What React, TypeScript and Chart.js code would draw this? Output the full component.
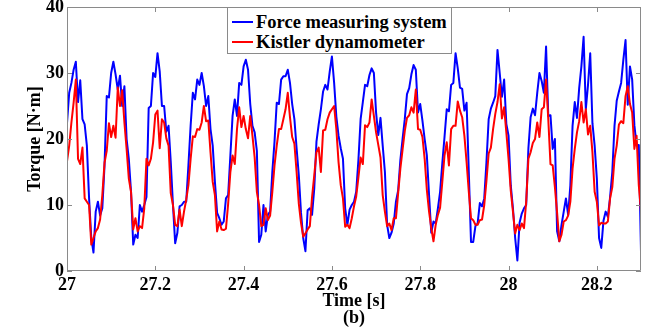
import React, { useEffect, useRef } from "react";
import { Chart, registerables } from "chart.js";

Chart.register(...registerables);

// Sampling of the time axis (s)
const timeStart = 27;
const timeStep = 0.005;

// Torque [N·m] – Force measuring system (blue)
const forceSystem = [
  22.4, 27, 28.5, 30.5, 31.7, 25.6, 28.9, 23, 22.2, 19,
  11, 5, 2.8, 9, 10.5, 8.4, 9.5, 16, 26.5, 26.3,
  30, 31.7, 29.8, 27.5, 29.6, 25, 28, 20, 17, 12,
  4, 5.5, 5, 10, 9, 10, 11.2, 24.7, 25, 30,
  29.4, 33, 30.2, 25, 25, 21.1, 22, 16.5, 10, 4.2,
  5.8, 9.8, 10, 10.5, 10.5, 16, 22, 27, 26, 29,
  28.2, 30, 28, 25, 26.5, 21.5, 19, 13.5, 8.8, 8,
  7, 7.5, 11, 11.5, 17.5, 23.5, 26, 23.5, 28.5, 28.2,
  31, 32, 30.5, 25.3, 22, 21, 18.2, 4.4, 5.5, 10,
  6, 8.5, 9, 15, 19.6, 25.5, 25.3, 29, 29.5, 29.5,
  30.5, 28.5, 25.3, 23, 18.6, 14.5, 8.8, 5, 3, 9.2,
  9.5, 8.5, 12.5, 19.6, 22.2, 24.5, 27.2, 28.2, 27.5, 30.2,
  32.5, 28.5, 23.4, 20.5, 18.6, 17, 9.5, 7, 9.3, 10,
  10.5, 12, 16.8, 23, 25.6, 28.2, 28, 29.7, 30.7, 30,
  24, 20.6, 23.2, 19, 15, 7, 5, 5.8, 7.2, 10.5,
  12.2, 16.8, 20, 23, 26.8, 27.7, 29.8, 31.2, 30.5, 24,
  25.3, 22.8, 20, 17.5, 11.5, 5.8, 7.5, 7.2, 9.5, 12,
  16.3, 20.3, 24.5, 24.2, 28.2, 28.5, 33, 30.7, 27.8, 27.6,
  24.3, 25.5, 15, 4.4, 4.4, 6.8, 7.2, 10.3, 9.8, 11,
  16.5, 23, 24.6, 25.5, 26.5, 33.5, 30, 26.4, 29, 22.3,
  20.5, 13, 9.5, 5, 1.6, 7.3, 8.7, 9.5, 10, 18.6,
  23.3, 24.6, 23.6, 27, 30, 28.8, 27, 34, 23.5, 23.6,
  18.5, 20, 6, 4.5, 7, 9, 11, 8.5, 13, 22,
  25.6, 23.2, 27.7, 31, 35.5, 24.5, 28.2, 33, 22.4, 19,
  14, 5, 3.5, 7.6, 9, 8.2, 11.2, 15, 22, 25.8,
  27.2, 28.5, 32, 35, 25.2, 31, 29, 22.1, 19, 19.1,
  3,
];

// Torque [N·m] – Kistler dynamometer (red)
const kistler = [
  16.6, 19, 22.5, 25.5, 29, 17, 16.2, 18.7, 11, 10.5,
  10, 4, 5, 6, 6.5, 7.8, 11.5, 16.4, 18.2, 22.4,
  20.3, 22, 20.2, 27.8, 25, 27.4, 22.5, 18.5, 14, 12,
  6.3, 8, 6, 6.8, 6.5, 9.5, 17, 16, 17, 19.5,
  23.7, 24.3, 18.6, 23, 22.5, 20.1, 19, 11.8, 10, 7,
  6.8, 9.3, 6.8, 9, 10.8, 13, 17, 20.4, 20.3, 21.5,
  21.4, 22.5, 25, 22.7, 22.8, 18, 13.5, 11.5, 6, 7.5,
  6.3, 6.2, 6.4, 10.2, 15, 17.5, 16.2, 21.5, 24.8, 21.8,
  23.5, 21.5, 20.1, 23.5, 20.5, 17.2, 12, 10, 6.8, 7,
  9.5, 7.7, 8.4, 12, 16, 19, 21.5, 21.5, 23, 24.5,
  27, 23.3, 20.3, 19.3, 15, 10.2, 7.3, 5.2, 5.7, 6.3,
  6.8, 11.2, 14.5, 18, 18.7, 15, 21.3, 21.4, 23, 24,
  24.5, 25, 21.5, 16.5, 13, 11, 6.7, 7, 6.5, 8,
  9.8, 11.3, 14.2, 17.2, 16.2, 22.1, 21.8, 22.5, 26, 23.5,
  21, 19.1, 17.2, 11.5, 9, 6.8, 7.2, 6.2, 8, 8,
  11.8, 15.5, 18.4, 21.2, 23.2, 23.6, 24.8, 24, 27.5, 21.5,
  21.4, 20.3, 17, 12.3, 9, 6.5, 4.5, 7, 8.5, 9.6,
  13.5, 17.5, 19.5, 16, 21.5, 22, 22, 25.7, 24.3, 23.3,
  20.5, 16.5, 12, 8, 7.7, 7, 7, 7.7, 7.8, 10,
  13.7, 17.8, 18.7, 21.5, 23.8, 25.6, 28.3, 23.1, 24.8, 21,
  17, 12.2, 9, 5.7, 7, 6.2, 7.2, 6.5, 10.5, 17,
  18, 19.4, 20, 22.5, 20.3, 24.5, 24.8, 29, 23, 16.2,
  16, 12.7, 8.8, 4.5, 5.5, 7.5, 7.7, 8.4, 10.5, 15.5,
  18.5, 21, 22.7, 25.6, 22.5, 24.5, 20.7, 22, 18, 12,
  10.5, 6.9, 7.3, 7.2, 7.2, 7.5, 11, 12.7, 17, 19,
  22.2, 22.7, 22.4, 26.5, 28, 25.3, 24, 18.5, 20.5, 13,
  9,
];

const seriesNames = ["Force measuring system", "Kistler dynamometer"];
const seriesColors = ["#0000ff", "#ff0000"];

const xTickValues = [27, 27.2, 27.4, 27.6, 27.8, 28, 28.2];
const yTickValues = [0, 10, 20, 30, 40];
const xMin = 27;
const xMax = 28.3;
const yMin = 0;
const yMax = 40;

const FONT = "'Liberation Serif', 'Times New Roman', serif";

const framePlugin = {
  id: "matlabFrame",
  afterDatasetsDraw(chart: any) {
    const { ctx, chartArea, scales } = chart;
    const { left, right, top, bottom } = chartArea;
    const xs = scales.x;
    const ys = scales.y;
    ctx.save();
    ctx.strokeStyle = "#8a8a8a";
    ctx.lineWidth = 1;
    ctx.beginPath();
    ctx.rect(Math.round(left) + 0.5, Math.round(top) + 0.5, Math.round(right - left) - 1, Math.round(bottom - top) - 1);
    ctx.stroke();
    const tl = 5;
    ctx.beginPath();
    xTickValues.forEach((v) => {
      const px = Math.round(xs.getPixelForValue(v)) + 0.5;
      ctx.moveTo(px, bottom);
      ctx.lineTo(px, bottom - tl);
      ctx.moveTo(px, top);
      ctx.lineTo(px, top + tl);
    });
    yTickValues.forEach((v) => {
      const py = Math.round(ys.getPixelForValue(v)) + 0.5;
      ctx.moveTo(left, py);
      ctx.lineTo(left + tl, py);
      ctx.moveTo(right, py);
      ctx.lineTo(right - tl, py);
    });
    ctx.stroke();
    ctx.restore();
  },
};

export default function App() {
  const canvasRef = useRef<HTMLCanvasElement | null>(null);

  useEffect(() => {
    const canvas = canvasRef.current;
    if (!canvas) return;
    const toPoints = (arr: number[]) =>
      arr.map((v, i) => ({ x: timeStart + i * timeStep, y: v }));

    const chart = new Chart(canvas, {
      type: "line",
      data: {
        datasets: [
          {
            label: seriesNames[0],
            data: toPoints(forceSystem),
            borderColor: seriesColors[0],
            backgroundColor: seriesColors[0],
            borderWidth: 2,
            pointRadius: 0,
            tension: 0,
            borderJoinStyle: "round",
            order: 2,
          },
          {
            label: seriesNames[1],
            data: toPoints(kistler),
            borderColor: seriesColors[1],
            backgroundColor: seriesColors[1],
            borderWidth: 2,
            pointRadius: 0,
            tension: 0,
            borderJoinStyle: "round",
            order: 1,
          },
        ],
      },
      options: {
        responsive: false,
        animation: false,
        events: [],
        layout: { padding: { top: 7, right: 7, left: 0, bottom: 0 } },
        plugins: {
          legend: { display: false },
          tooltip: { enabled: false },
        },
        scales: {
          x: {
            type: "linear",
            min: xMin,
            max: xMax,
            afterBuildTicks: (axis: any) => {
              axis.ticks = xTickValues.map((v) => ({ value: v }));
            },
            afterFit: (s: any) => {
              s.height = 56;
              s.paddingLeft = 0;
              s.paddingRight = 0;
            },
            grid: { display: false, drawTicks: false },
            border: { display: false },
            ticks: {
              padding: 4,
              color: "#000",
              autoSkip: false,
              maxRotation: 0,
              font: { family: FONT, size: 18, weight: "bold" },
              callback: (v: any) => String(Number(Number(v).toFixed(1))),
            },
            title: {
              display: true,
              text: ["Time [s]", "(b)"],
              color: "#000",
              font: { family: FONT, size: 18, weight: "bold", lineHeight: 0.9 },
              padding: { top: 0, bottom: 1 },
            },
          },
          y: {
            type: "linear",
            min: yMin,
            max: yMax,
            afterBuildTicks: (axis: any) => {
              axis.ticks = yTickValues.map((v) => ({ value: v }));
            },
            afterFit: (s: any) => {
              s.width = 67;
              s.paddingTop = 0;
              s.paddingBottom = 0;
            },
            grid: { display: false, drawTicks: false },
            border: { display: false },
            ticks: {
              padding: 3,
              color: "#000",
              font: { family: FONT, size: 18, weight: "bold" },
            },
            title: {
              display: true,
              text: "Torque [N·m]",
              color: "#000",
              font: { family: FONT, size: 18, weight: "bold" },
              padding: { top: 25, bottom: 0 },
            },
          },
        },
      },
      plugins: [framePlugin],
    } as any);

    return () => {
      chart.destroy();
    };
  }, []);

  return (
    <div
      style={{
        position: "fixed",
        left: 0,
        top: 0,
        width: 648,
        height: 327,
        background: "#fff",
        overflow: "hidden",
      }}
    >
      <canvas ref={canvasRef} width={648} height={327} style={{ display: "block" }} />
      <div
        style={{
          position: "absolute",
          left: 227,
          top: 7,
          width: 225,
          height: 47,
          boxSizing: "border-box",
          border: "1px solid #8a8a8a",
          background: "#fff",
          fontFamily: FONT,
          fontWeight: "bold",
          fontSize: 18.5,
          color: "#000",
        }}
      >
        {seriesNames.map((name, i) => (
          <div
            key={name}
            style={{
              position: "absolute",
              left: 0,
              top: 4 + i * 20,
              height: 20,
              lineHeight: "20px",
              whiteSpace: "nowrap",
            }}
          >
            <span
              style={{
                position: "absolute",
                left: 4,
                top: 9,
                width: 21,
                height: 2,
                background: seriesColors[i],
              }}
            />
            <span style={{ position: "absolute", left: 28, top: 0 }}>{name}</span>
          </div>
        ))}
      </div>
    </div>
  );
}
